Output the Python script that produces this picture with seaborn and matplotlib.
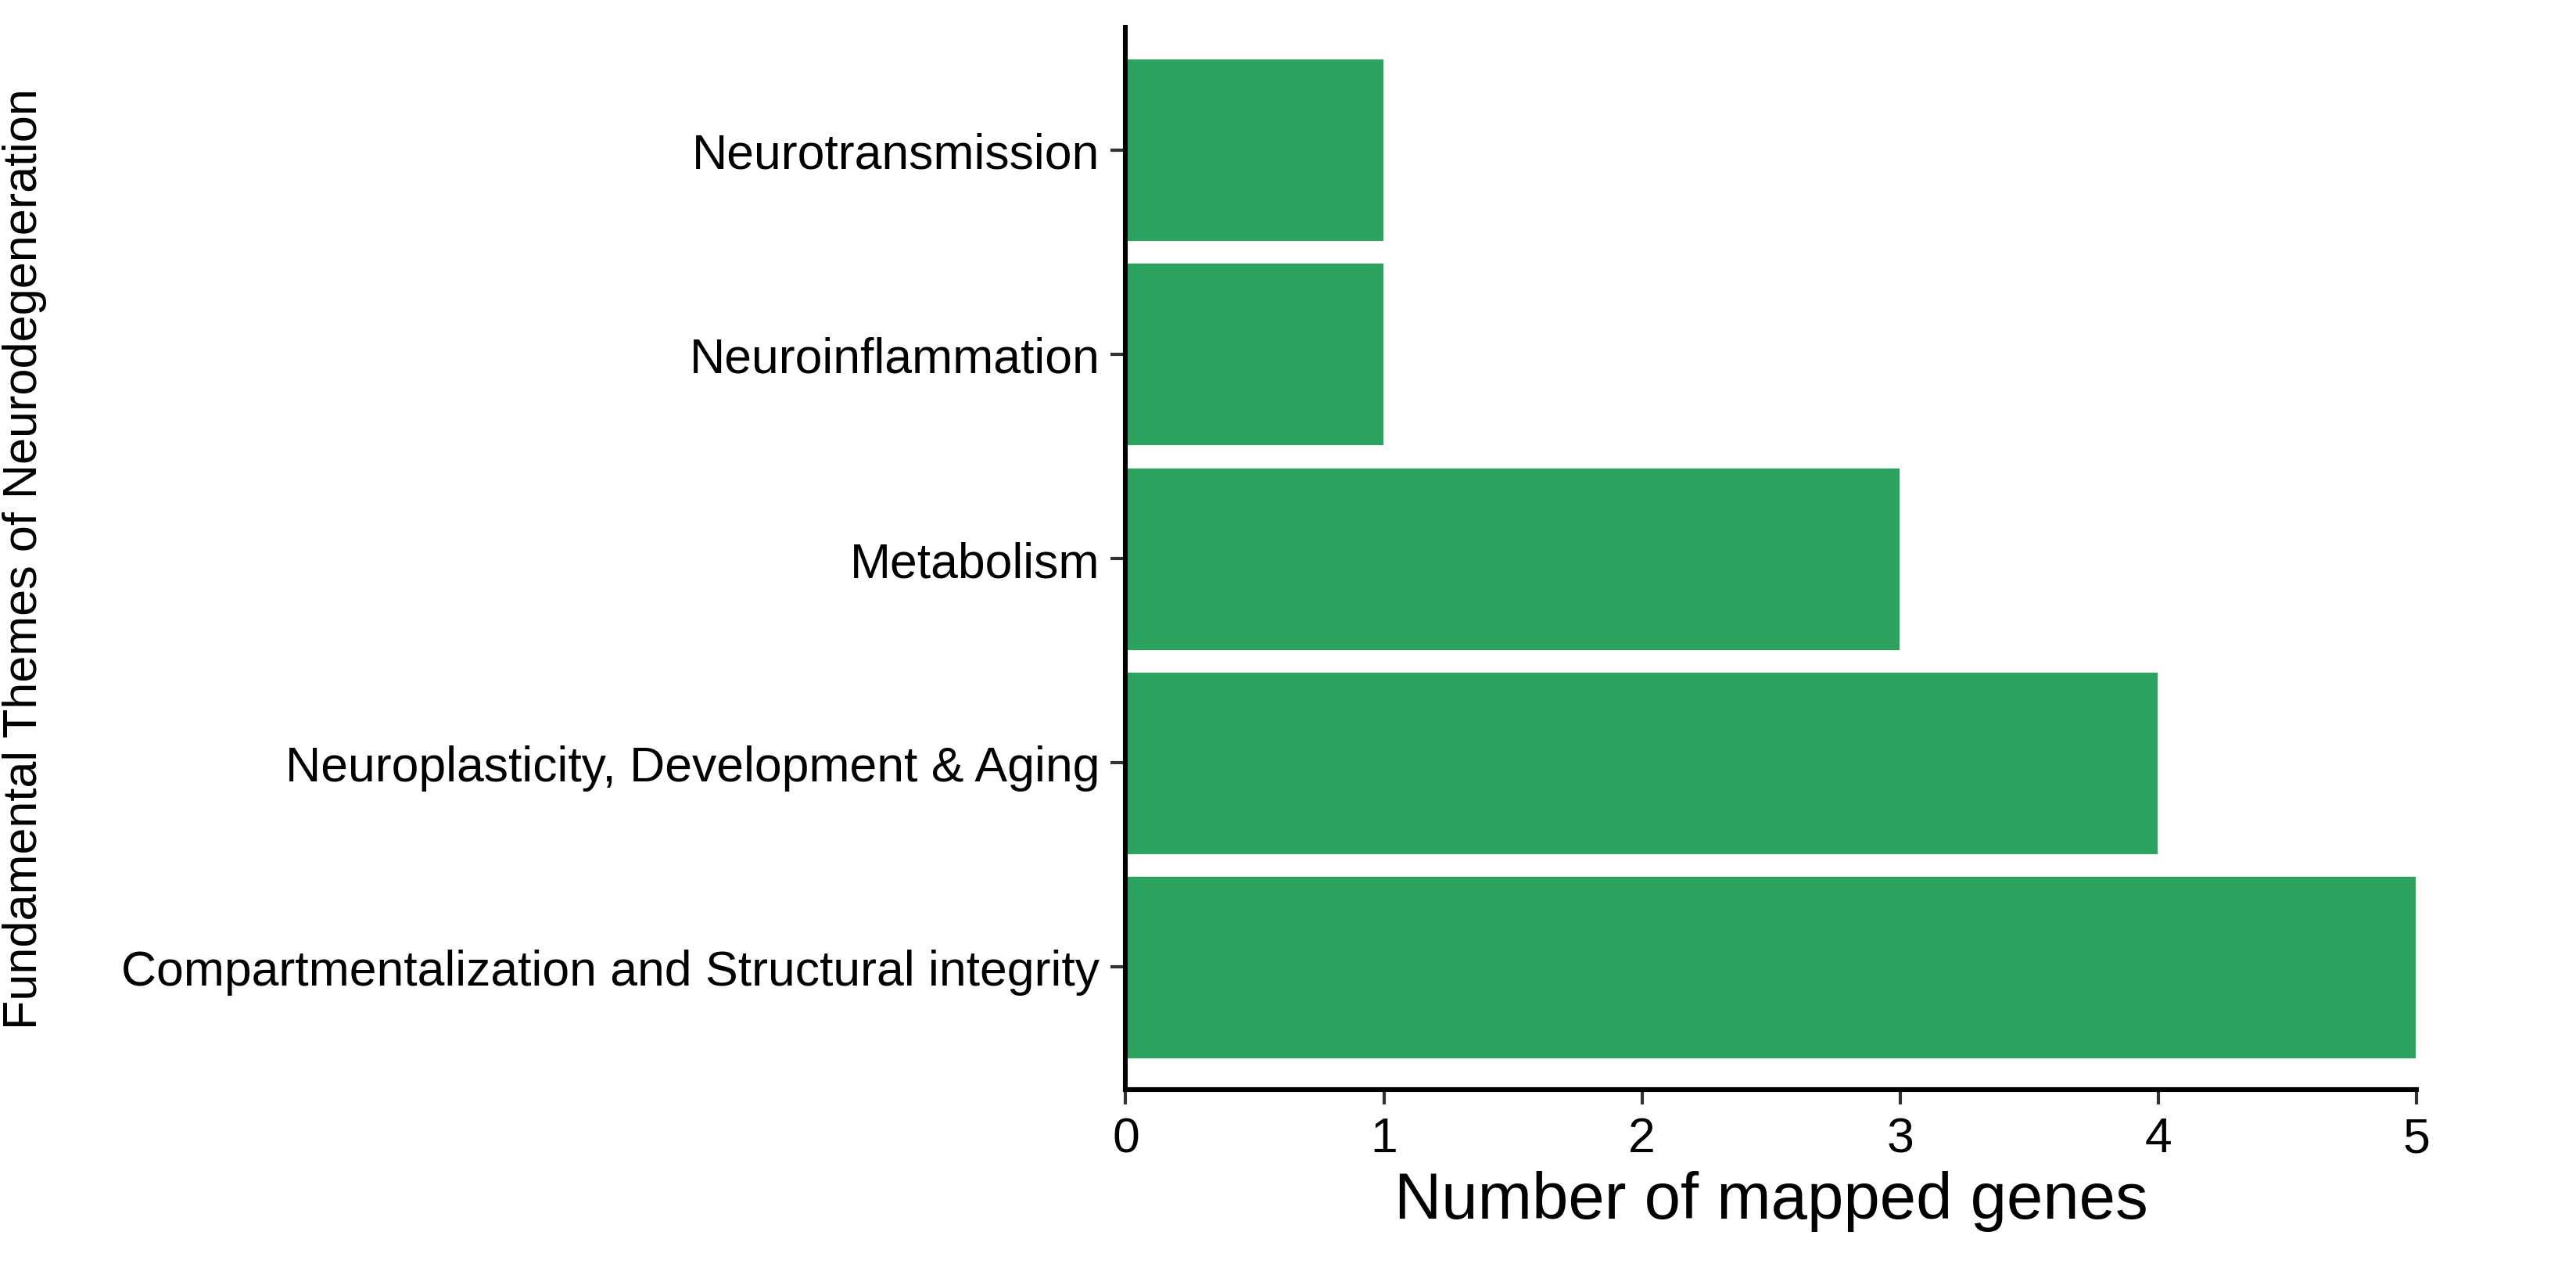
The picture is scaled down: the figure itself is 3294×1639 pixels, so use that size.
import matplotlib
matplotlib.use("Agg")
import matplotlib.pyplot as plt
import seaborn as sns
import pandas as pd

categories = ["Neurotransmission", "Neuroinflammation", "Metabolism",
              "Neuroplasticity, Development & Aging",
              "Compartmentalization and Structural integrity"]
counts = [1, 1, 3, 4, 5]
xticks = [0, 1, 2, 3, 4, 5]

sns.set_theme(style="ticks")
plt.rcParams['font.family'] = ['Liberation Sans', 'DejaVu Sans']

df = pd.DataFrame({"theme": categories, "n": counts})
fig = plt.figure(figsize=(16.47, 8.2), dpi=200)
ax = fig.add_axes([0.437, 0.15, 0.501, 0.828])
sns.barplot(data=df, x="n", y="theme", order=categories, color="#2CA25F",
            saturation=1, width=0.9, ax=ax)
ax.set_xlim(0, 5)
ax.set_ylim(4.6, -0.6)
ax.set_xticks(xticks)
ax.tick_params(axis='both', labelsize=22.5, colors='#333333', length=7, width=1.5, pad=5)
ax.tick_params(axis='both', labelcolor='black')
ax.set_xlabel("Number of mapped genes", fontsize=30, color='black', labelpad=4)
ax.set_ylabel("Fundamental Themes of Neurodegeneration", fontsize=22, color='black')
ax.yaxis.set_label_coords(-0.836, 0.5)
for s in ["top", "right"]:
    ax.spines[s].set_visible(False)
for s in ["left", "bottom"]:
    ax.spines[s].set_linewidth(2.2)
    ax.spines[s].set_color('black')
fig.savefig("out.png", dpi=200)
